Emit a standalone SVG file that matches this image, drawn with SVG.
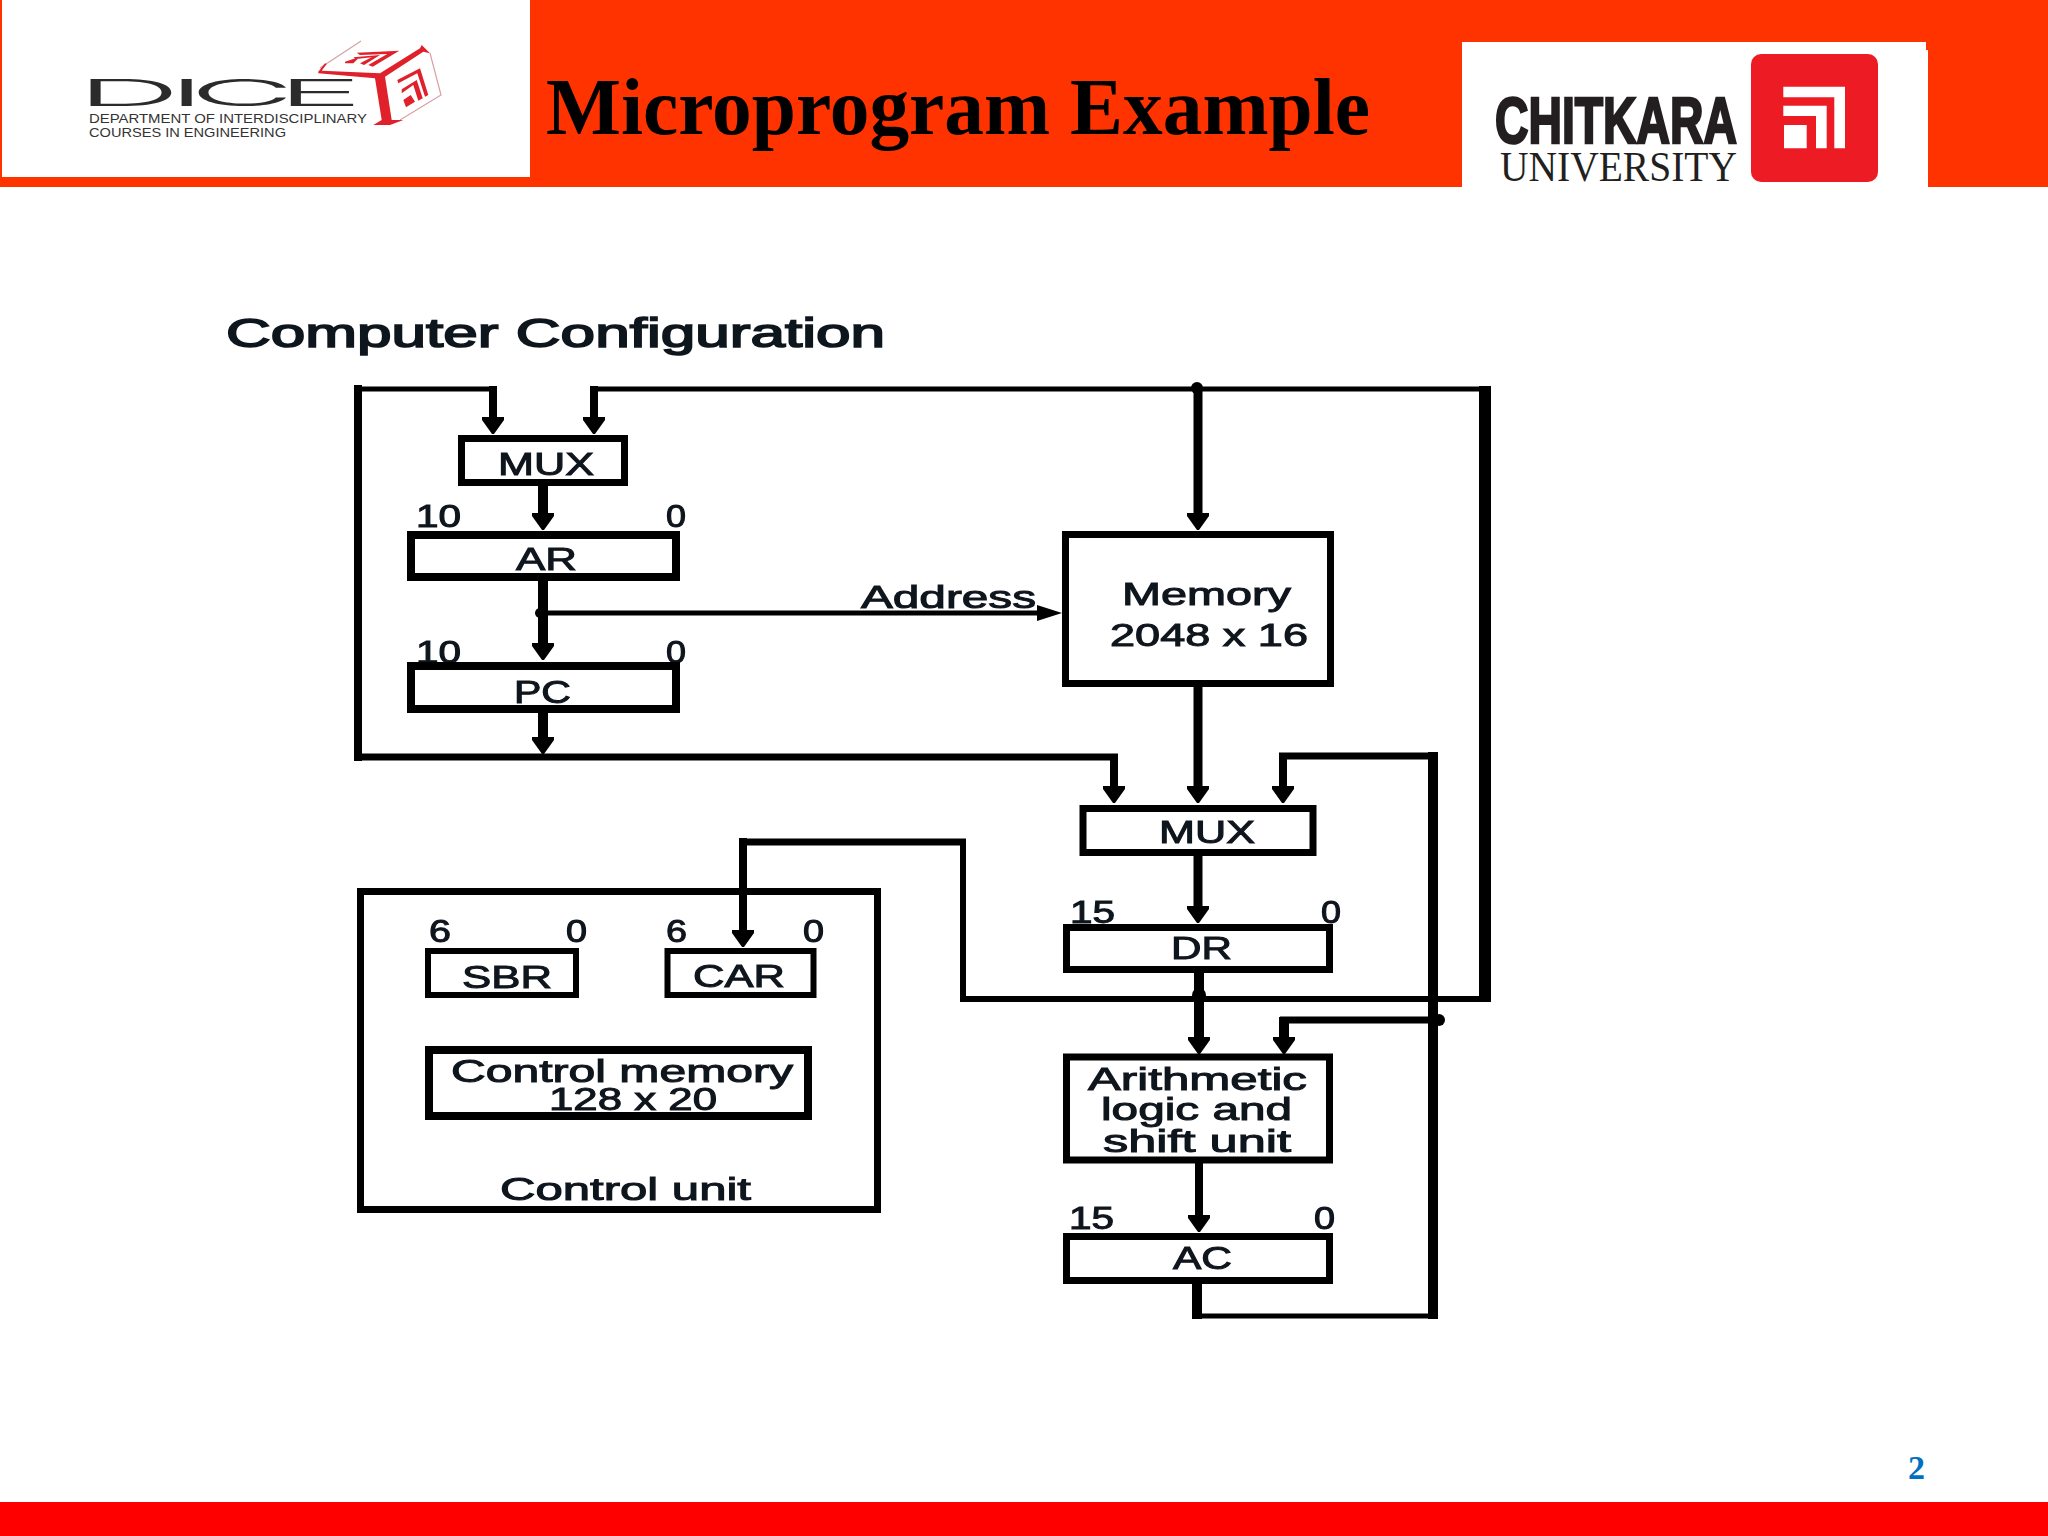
<svg xmlns="http://www.w3.org/2000/svg" width="2048" height="1536" viewBox="0 0 2048 1536">
<defs>
<style>
.t{font-family:"Liberation Sans",Arial,sans-serif;font-size:32px;fill:#10131c;stroke:#10131c;stroke-width:1px}
.n{font-size:31px}
.h{font-size:40px;stroke-width:1.6px}
.b{fill:#fff;stroke:#000;stroke-width:7px}
.w{fill:none;stroke:#000;stroke-linecap:butt}
.w5{stroke-width:5px}.w6{stroke-width:6px}.w7{stroke-width:7px}.w8{stroke-width:8px}.w9{stroke-width:9px}.w10{stroke-width:10px}.w12{stroke-width:12px}
.a{marker-end:url(#head)}
.red{fill:#e0202a}
.sq{fill:#ed1c24}
.wh{fill:#fff}
</style>
<marker id="head" markerUnits="userSpaceOnUse" markerWidth="18" markerHeight="22" refX="1" refY="11" orient="auto"><path d="M0,0L3,0L17,10V12L3,22L0,22z"/></marker>
<marker id="headS" markerUnits="userSpaceOnUse" markerWidth="26" markerHeight="16" refX="1" refY="8" orient="auto"><path d="M0,0L25,8L0,16z"/></marker>
<filter id="soft" x="0" y="0" width="1" height="1" filterUnits="objectBoundingBox"><feGaussianBlur stdDeviation="0.6"/></filter>
</defs>
<rect width="2048" height="1536" fill="#fff"/>
<g id="header">
<rect width="2048" height="187" fill="#ff3300"/>
<rect x="2" y="0" width="528" height="177" fill="#fff"/>
<rect x="1462" y="42" width="464" height="8" fill="#fff"/>
<rect x="1462" y="50" width="466" height="137" fill="#fff"/>
<text x="546" y="134" font-family="Liberation Serif,serif" font-weight="700" font-size="80" textLength="824" lengthAdjust="spacingAndGlyphs" fill="#000">Microprogram Example</text>
</g>
<g id="dice-logo">
<text transform="scale(3.9 1)" x="19.7 43 48.6 71" y="106" font-family="Inter,Liberation Sans,sans-serif" font-weight="300" font-size="37" fill="#2b2b2b">DICE</text>
<text x="89" y="123" font-family="Liberation Sans,sans-serif" font-size="13.5" textLength="278" lengthAdjust="spacingAndGlyphs" fill="#333">DEPARTMENT OF INTERDISCIPLINARY</text>
<text x="89" y="137" font-family="Liberation Sans,sans-serif" font-size="13.5" textLength="197" lengthAdjust="spacingAndGlyphs" fill="#333">COURSES IN ENGINEERING</text>
<path d="M361,41L320,68M430,53L441,95L400,120" fill="none" stroke="#d9a0a4" stroke-width="1.2"/>
<path class="red" d="M318.3,71.7L325,63.3L326.7,64L321.7,70.7L380,73.3L420,48.3L421.7,45L430,53.3L423.3,51.7L385,76.7L391.7,120L403.3,120L390,125L373.3,125L381.7,120L375,78.3L318.3,73.3z"/>
<path class="red" d="M356.7,52.7L399.3,50.7L372.7,66.7L368.3,65L387.3,54L360,55zM353.3,57.3L380,55L364,65L360,63.3L371.7,57.3L356,59zM345,61.7L360,56.7L353.3,63.3L345,63.3zM397.3,80L420,68.3L428.3,95L425,96.7L417.3,73.3L398.3,83.3zM401.7,89.3L416.7,80L422.7,98.3L418.3,100.7L413.3,85L401.7,93.3zM403.3,100L410.7,95L415,101.7L406,107.3z"/>
</g>
<g id="chitkara-logo">
<text x="1495" y="143" font-family="Liberation Sans,sans-serif" font-weight="700" font-size="64" textLength="242" lengthAdjust="spacingAndGlyphs" fill="#231f20" stroke="#231f20" stroke-width="2.5">CHITKARA</text>
<text x="1500" y="181" font-family="Liberation Serif,serif" font-size="42" textLength="237" lengthAdjust="spacingAndGlyphs" fill="#231f20">UNIVERSITY</text>
<rect class="sq" x="1751" y="54" width="127" height="128" rx="10"/>
<path class="wh" d="M1783.3,86.7H1845V148.3H1834.3V97.3H1783.3zM1783.3,105.7H1826.7V148.3H1816V116H1783.3zM1784,125H1806.7V148.3H1784z"/>
</g>
<g id="diagram" filter="url(#soft)">
<text class="t h" x="226" y="347" textLength="659" lengthAdjust="spacingAndGlyphs">Computer Configuration</text>
<g id="mux1"><rect class="b" x="461.5" y="438.5" width="163" height="44"/><text class="t" x="498" y="475" textLength="96" lengthAdjust="spacingAndGlyphs">MUX</text></g>
<g id="ar"><text class="t n" x="416" y="527" textLength="45" lengthAdjust="spacingAndGlyphs">10</text><text class="t n" x="666" y="527" textLength="20" lengthAdjust="spacingAndGlyphs">0</text><rect class="b" x="411" y="535" width="265" height="42" style="stroke-width:8px"/><text class="t" x="516" y="570" textLength="61" lengthAdjust="spacingAndGlyphs">AR</text></g>
<g id="pc"><text class="t n" x="416" y="663" textLength="45" lengthAdjust="spacingAndGlyphs">10</text><text class="t n" x="666" y="663" textLength="20" lengthAdjust="spacingAndGlyphs">0</text><rect class="b" x="411" y="666" width="265" height="43" style="stroke-width:8px"/><text class="t" x="514" y="703" textLength="57" lengthAdjust="spacingAndGlyphs">PC</text></g>
<g id="memory"><rect class="b" x="1065.5" y="534.5" width="265" height="149"/><text class="t" x="1122" y="605" textLength="169" lengthAdjust="spacingAndGlyphs">Memory</text><text class="t" x="1110" y="646" textLength="198" lengthAdjust="spacingAndGlyphs">2048 x 16</text></g>
<g id="mux2"><rect class="b" x="1083" y="808.5" width="230" height="44"/><text class="t" x="1159" y="843" textLength="96" lengthAdjust="spacingAndGlyphs">MUX</text></g>
<g id="dr"><text class="t n" x="1070" y="923" textLength="45" lengthAdjust="spacingAndGlyphs">15</text><text class="t n" x="1321" y="923" textLength="20" lengthAdjust="spacingAndGlyphs">0</text><rect class="b" x="1066.5" y="927.5" width="263" height="42"/><text class="t" x="1171" y="959" textLength="61" lengthAdjust="spacingAndGlyphs">DR</text></g>
<g id="alu"><rect class="b" x="1066.5" y="1057" width="263" height="103"/><text class="t" x="1088" y="1090" textLength="219" lengthAdjust="spacingAndGlyphs">Arithmetic</text><text class="t" x="1101" y="1120" textLength="191" lengthAdjust="spacingAndGlyphs">logic and</text><text class="t" x="1103" y="1152" textLength="188" lengthAdjust="spacingAndGlyphs">shift unit</text></g>
<g id="ac"><text class="t n" x="1069" y="1229" textLength="45" lengthAdjust="spacingAndGlyphs">15</text><text class="t n" x="1314" y="1229" textLength="21" lengthAdjust="spacingAndGlyphs">0</text><rect class="b" x="1066.5" y="1236.5" width="263" height="44"/><text class="t" x="1173" y="1269" textLength="59" lengthAdjust="spacingAndGlyphs">AC</text></g>
<g id="control-unit"><rect x="360.5" y="891.5" width="517" height="318" fill="none" stroke="#000" stroke-width="7"/><text class="t" x="500" y="1200" textLength="251" lengthAdjust="spacingAndGlyphs">Control unit</text></g>
<g id="sbr"><text class="t n" x="429" y="942" textLength="22" lengthAdjust="spacingAndGlyphs">6</text><text class="t n" x="566" y="942" textLength="21" lengthAdjust="spacingAndGlyphs">0</text><rect class="b" x="428" y="951" width="148" height="44" style="stroke-width:6px"/><text class="t" x="462" y="988" textLength="90" lengthAdjust="spacingAndGlyphs">SBR</text></g>
<g id="car"><text class="t n" x="666" y="942" textLength="21" lengthAdjust="spacingAndGlyphs">6</text><text class="t n" x="803" y="942" textLength="21" lengthAdjust="spacingAndGlyphs">0</text><rect class="b" x="667.5" y="951" width="146" height="44" style="stroke-width:6px"/><text class="t" x="693" y="987" textLength="92" lengthAdjust="spacingAndGlyphs">CAR</text></g>
<g id="control-memory"><rect class="b" x="429" y="1050" width="379" height="66" style="stroke-width:8px"/><text class="t" x="451" y="1082" textLength="342" lengthAdjust="spacingAndGlyphs">Control memory</text><text class="t" x="549" y="1110" textLength="168" lengthAdjust="spacingAndGlyphs">128 x 20</text></g>
<g id="connectors">
<path class="w w8" d="M358,761V385"/>
<path class="w w5" d="M354,389H497"/>
<path class="w w8 a" d="M493,386V418"/>
<path class="w w8 a" d="M594,386V418"/>
<path class="w w5" d="M590,389H1491"/>
<circle cx="1197" cy="388" r="6"/>
<path class="w w9 a" d="M1198,388V514"/>
<path class="w w12" d="M1485,386V1002"/>
<path class="w w10 a" d="M543,486V514"/>
<path class="w w10 a" d="M543,580V644"/>
<path class="w w5" style="marker-end:url(#headS)" d="M540,613H1038"/>
<circle cx="540" cy="613" r="5"/>
<text class="t" x="861" y="608" textLength="175" lengthAdjust="spacingAndGlyphs">Address</text>
<path class="w w10 a" d="M543,713V738"/>
<path class="w w7" d="M354,757H1118"/>
<path class="w w8 a" d="M1114,754V787"/>
<path class="w w9 a" d="M1198,687V787"/>
<path class="w w8 a" d="M1283,753V787"/>
<path class="w w7" d="M1279,756H1438"/>
<path class="w w10" d="M1433,752V1319"/>
<path class="w w9 a" d="M1198,856V907"/>
<path class="w w10 a" d="M1199,973V1038"/>
<circle cx="1199" cy="995" r="7"/>
<path class="w w6" d="M960,999H1482"/>
<path class="w w6" d="M963,1002V839"/>
<path class="w w7" d="M739,842H966"/>
<path class="w w8 a" d="M743,838V931"/>
<path class="w w7" d="M1280,1020H1438"/>
<path class="w w10 a" d="M1284,1017V1038"/>
<circle cx="1439" cy="1020" r="6"/>
<path class="w w8 a" d="M1199,1163V1216"/>
<path class="w w10" d="M1197,1284V1319"/>
<path class="w w5" d="M1192,1316H1438"/>
</g>
</g>
<text id="page-number" x="1908" y="1479" font-family="Liberation Serif,serif" font-weight="700" font-size="34" fill="#0070c0">2</text>
<rect id="footer" y="1502" width="2048" height="34" fill="#ff0000"/>
</svg>
